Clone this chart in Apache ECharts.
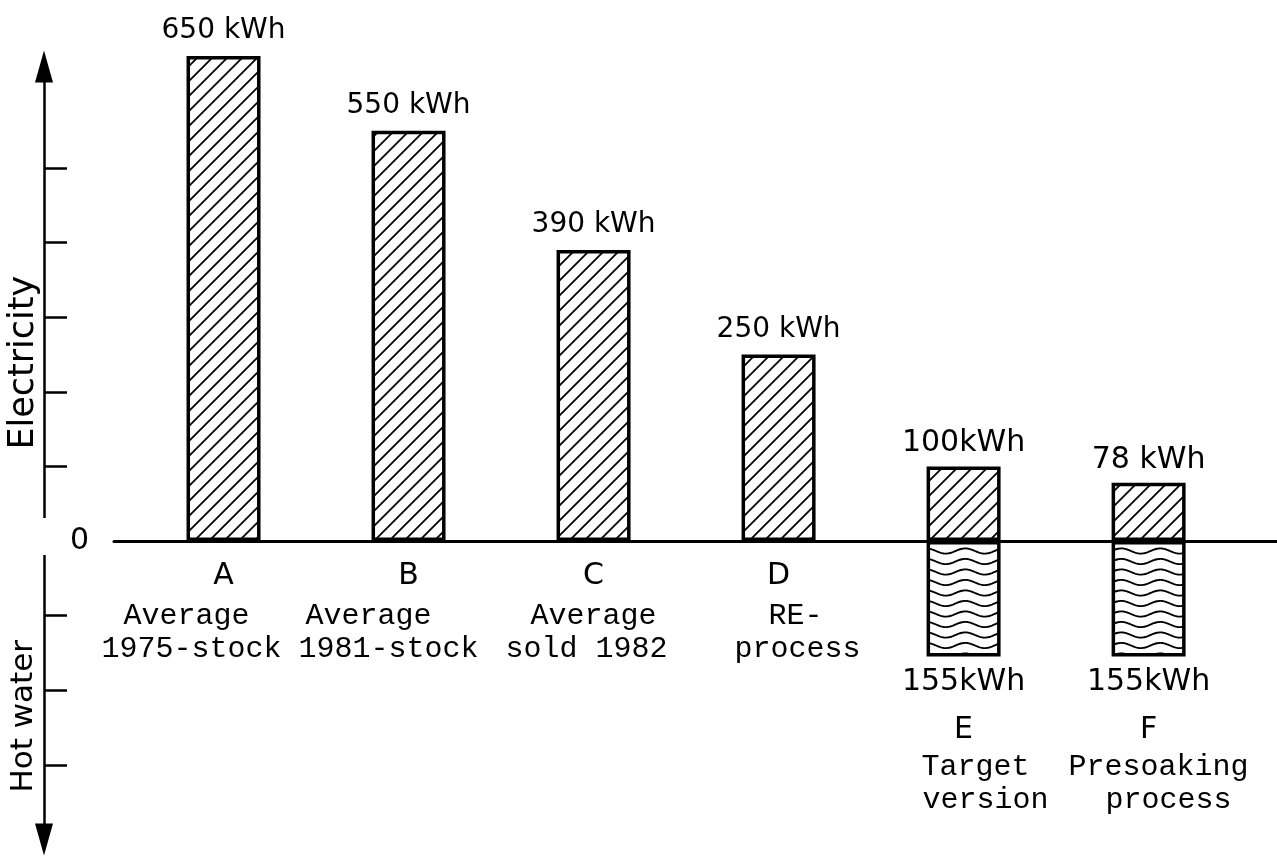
<!DOCTYPE html>
<html><head><meta charset="utf-8">
<script src="https://cdn.jsdelivr.net/npm/echarts@6/dist/echarts.min.js"></script>
<style>html,body{margin:0;padding:0;background:#fff}#c{width:1277px;height:860px}</style>
</head><body><div id="c"></div>
<script>
// ---------------- data ----------------
const categories = ['A', 'B', 'C', 'D', 'E', 'F'];
const descriptions = [
  ['Average', '1975-stock'],
  ['Average', '1981-stock'],
  ['Average', 'sold 1982'],
  ['RE-', 'process'],
  ['Target', 'version'],
  ['Presoaking', 'process']
];
const electricity = [650, 550, 390, 250, 100, 78];
const electricityLabels = ['650 kWh', '550 kWh', '390 kWh', '250 kWh', '100kWh', '78 kWh'];
const hotWater = [null, null, null, null, 155, 155];
const hotWaterLabels = ['', '', '', '', '155kWh', '155kWh'];
const tickValues = [-300, -200, -100, 100, 200, 300, 400, 500];
const yLabelValues = [0];
const axisNames = ['Electricity', 'Hot water'];
const axisNameValues = [239, -235];

// ---------------- styles ----------------
const SANS = 'DejaVu Sans';
const MONO = 'Liberation Mono';
const Y_MIN = -400, Y_MAX = 636;
const X_MIN = 0.408, X_MAX = 6.694;
const GRID = { left: 114, right: 0, top: 66.5, bottom: 20.6 };
const valueLabelSize = [28, 28, 28, 28, 30, 30];
const valueLabelDist = [11, 11, 11, 11, 8, 8];
const axisNameSizes = [35, 31];
const descShift = [[-37, -32], [-40, -20], [0, -7], [17, 19], [12, 22], [10, 20]];
const dropBelowBars = [false, false, false, false, true, true];

function hatchPattern() {
  const s = 15, c = document.createElement('canvas');
  c.width = s; c.height = s;
  const g = c.getContext('2d');
  g.strokeStyle = '#000'; g.lineWidth = 1.8;
  g.beginPath();
  g.moveTo(-2, s + 2); g.lineTo(s + 2, -2);
  g.moveTo(-2, 2); g.lineTo(2, -2);
  g.moveTo(s - 2, s + 2); g.lineTo(s + 2, s - 2);
  g.stroke();
  return c;
}
function wavePattern() {
  const w = 39, h = 21, c = document.createElement('canvas');
  c.width = w; c.height = h;
  const g = c.getContext('2d');
  g.strokeStyle = '#000'; g.lineWidth = 1.9;
  [5, 15.5].forEach(y0 => {
    g.beginPath();
    for (let x = 0; x <= w; x++) {
      const y = y0 + 2.6 * Math.sin(2 * Math.PI * x / w);
      if (x === 0) g.moveTo(x, y); else g.lineTo(x, y);
    }
    g.stroke();
  });
  return c;
}

const rich = {
  sp: { fontSize: 10, lineHeight: 157 },
  L: { fontFamily: SANS, fontSize: 30, lineHeight: 48, color: '#000' },
  L2: { fontFamily: SANS, fontSize: 30, lineHeight: 42, color: '#000' }
};
descriptions.forEach((lines, i) => lines.forEach((t, j) => {
  const s = descShift[i][j];
  rich['d' + i + '_' + j] = {
    fontFamily: MONO, fontSize: 30, lineHeight: 33, color: '#000',
    padding: s >= 0 ? [0, 0, 0, 2 * s] : [0, -2 * s, 0, 0]
  };
}));

function categoryLabel(v) {
  const i = Math.round(v) - 1;
  const out = [];
  if (dropBelowBars[i]) out.push('{sp|\u00a0}', '{L2|' + categories[i] + '}');
  else out.push('{L|' + categories[i] + '}');
  descriptions[i].forEach((t, j) => out.push('{d' + i + '_' + j + '|' + t + '}'));
  return out.join('\n');
}

const elecData = electricity.map((v, i) => ({
  value: [i + 1, v],
  label: { fontSize: valueLabelSize[i], distance: valueLabelDist[i] }
}));
const hotData = hotWater.map((v, i) => ({
  value: [i + 1, v == null ? '-' : -v],
  label: { fontSize: valueLabelSize[i], distance: 11 }
}));

const gridH = 860 - GRID.top - GRID.bottom;
const zeroFromBottom = (0 - Y_MIN) / (Y_MAX - Y_MIN) * gridH;

// two x axes sharing the scale: odd and even categories, so neighbouring wide labels never collide
function makeXAxis(parity, showLine) {
  return {
    type: 'value', min: X_MIN, max: X_MAX, position: 'bottom', offset: -zeroFromBottom,
    axisLine: { show: showLine, onZero: false, lineStyle: { color: '#000', width: 3 } },
    axisTick: { show: false },
    splitLine: { show: false },
    axisLabel: {
      show: true, hideOverlap: false, showMinLabel: true, showMaxLabel: true,
      customValues: categories.map((c, i) => i + 1).filter(v => v % 2 === parity),
      margin: 11, verticalAlign: 'top', align: 'center',
      formatter: categoryLabel, rich: rich
    }
  };
}

const chart = echarts.init(document.getElementById('c'), null, { renderer: 'canvas' });
chart.setOption({
  animation: false,
  backgroundColor: '#fff',
  grid: { left: GRID.left, right: GRID.right, top: GRID.top, bottom: GRID.bottom, containLabel: false, outerBoundsMode: 'none' },
  xAxis: [makeXAxis(1, true), makeXAxis(0, false)],
  yAxis: {
    type: 'value', min: Y_MIN, max: Y_MAX, position: 'left', offset: 70,
    axisLine: { show: true, onZero: false, symbol: ['triangle', 'triangle'], symbolSize: [18, 32],
      lineStyle: { color: '#000', width: 2.5 } },
    axisTick: { show: true, inside: true, length: 23, customValues: tickValues,
      lineStyle: { color: '#000', width: 2.5 } },
    axisLabel: { show: true, inside: true, margin: 26, customValues: yLabelValues,
      showMinLabel: true, showMaxLabel: true, hideOverlap: false,
      fontFamily: SANS, fontSize: 30, color: '#000' },
    splitLine: { show: false }
  },
  series: [
    {
      type: 'bar', name: 'Electricity', stack: 's', barWidth: 74, clip: false, xAxisIndex: 0,
      data: elecData,
      itemStyle: { color: { image: hatchPattern(), repeat: 'repeat' }, borderColor: '#000', borderWidth: 3.5 },
      label: { show: true, position: 'top', color: '#000', fontFamily: SANS,
        formatter: p => electricityLabels[p.dataIndex] },
      emphasis: { disabled: true }
    },
    {
      type: 'bar', name: 'Hot water', stack: 's', barWidth: 74, clip: false, xAxisIndex: 0,
      data: hotData,
      itemStyle: { color: { image: wavePattern(), repeat: 'repeat' }, borderColor: '#000', borderWidth: 3.5 },
      label: { show: true, position: 'bottom', color: '#000', fontFamily: SANS,
        formatter: p => hotWaterLabels[p.dataIndex] },
      emphasis: { disabled: true }
    }
  ]
});

const zeroY = chart.convertToPixel({ yAxisIndex: 0 }, 0);
chart.setOption({
  graphic: [
    { type: 'rect', z: 100, shape: { x: 38, y: zeroY - 23, width: 12, height: 37 }, style: { fill: '#fff' } },
    ...axisNames.map((n, k) => ({
      type: 'text', z: 100, x: 24, y: chart.convertToPixel({ yAxisIndex: 0 }, axisNameValues[k]),
      rotation: Math.PI / 2,
      style: { text: n, fontFamily: SANS, fontSize: axisNameSizes[k], fill: '#000', align: 'center', verticalAlign: 'middle' }
    }))
  ]
});
</script>
</body></html>
